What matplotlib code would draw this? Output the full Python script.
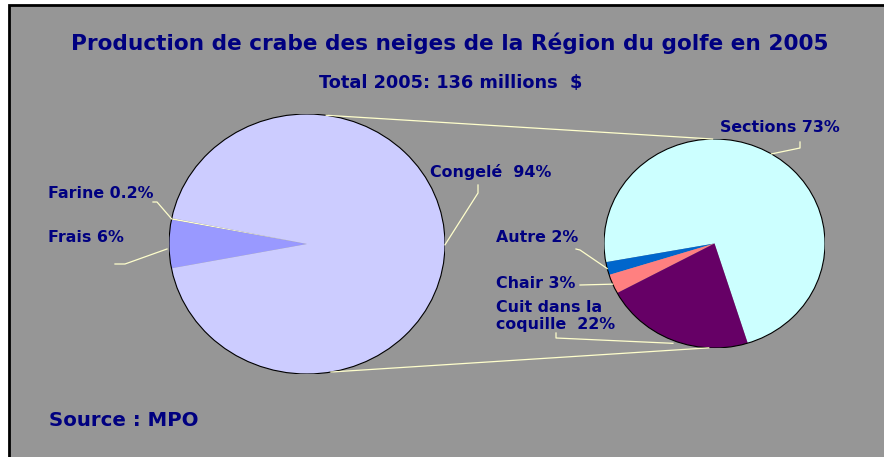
import numpy as np
import matplotlib
matplotlib.use("Agg")
import matplotlib.pyplot as plt
from matplotlib.patches import Rectangle, Ellipse

# ---- data ----
main_labels = ["Farine 0.2%", "Frais 6%", "Congelé  94%"]
main_values = [0.2, 6, 94]
main_colors = ["#FFFFCC", "#9999FF", "#CCCCFF"]

sub_labels = ["Sections 73%", "Autre 2%", "Chair 3%", "Cuit dans la\ncoquille  22%"]
sub_values = [73, 2, 3, 22]
sub_colors = ["#CCFFFF", "#0066CC", "#FF8080", "#660066"]

title = "Production de crabe des neiges de la Région du golfe en 2005"
subtitle = "Total 2005: 136 millions  $"
source = "Source : MPO"

W, H = 884, 457
NAVY = "#000080"
LEAD = "#FFFFCC"
plt.rcParams['font.family'] = ['DejaVu Sans']

fig = plt.figure(figsize=(W / 100, H / 100), dpi=100)
fig.patch.set_facecolor("white")

# gray panel with black border
fig.patches.append(Rectangle((9 / W, -0.05), 1.0, 1 - 5 / H + 0.05, transform=fig.transFigure,
                             facecolor="#969696", edgecolor="black", linewidth=2, zorder=-10))

def pie_axes(px0, py0, px1, py1):
    ax = fig.add_axes([px0 / W, 1 - py1 / H, (px1 - px0) / W, (py1 - py0) / H])
    ax.set_xlim(-1, 1)
    ax.set_ylim(-1, 1)
    return ax

axL = pie_axes(169, 114, 445, 374)
wL, _ = axL.pie(main_values, colors=main_colors, startangle=168.5, counterclock=True,
                radius=1, wedgeprops=dict(linewidth=0))
axL.set_aspect('auto'); axL.set_xlim(-1, 1); axL.set_ylim(-1, 1); axL.axis('off')
axL.add_patch(Ellipse((0, 0), 2, 2, fill=False, edgecolor="black", linewidth=0.8))

axR = pie_axes(604, 139, 825, 348)
wR, _ = axR.pie(sub_values, colors=sub_colors, startangle=-72.5, counterclock=True,
                radius=1, wedgeprops=dict(linewidth=0))
axR.set_aspect('auto'); axR.set_xlim(-1, 1); axR.set_ylim(-1, 1); axR.axis('off')
axR.add_patch(Ellipse((0, 0), 2, 2, fill=False, edgecolor="black", linewidth=0.8))

# overlay axes in pixel coordinates
ov = fig.add_axes([0, 0, 1, 1], facecolor="none")
ov.set_xlim(0, W); ov.set_ylim(H, 0); ov.axis('off')

def pt(ax, ang, r=1.0):
    a = np.deg2rad(ang)
    x, y = ax.transData.transform((r * np.cos(a), r * np.sin(a)))
    return x, H - y

def mid(w):
    return (w.theta1 + w.theta2) / 2

# connector lines between pies
for aL, aR in [(82, 91), (-80, -93)]:
    p1 = pt(axL, aL); p2 = pt(axR, aR)
    ov.plot([p1[0], p2[0]], [p1[1], p2[1]], color=LEAD, lw=0.9)

# titles
ov.text(450, 43, title, ha="center", va="center", color=NAVY, fontsize=15.6, fontweight="bold")
ov.text(451, 83, subtitle, ha="center", va="center", color=NAVY, fontsize=12.8, fontweight="bold")
ov.text(49, 420, source, ha="left", va="center", color=NAVY, fontsize=14.2, fontweight="bold")

fs = 11.4
# main pie labels
a = pt(axL, mid(wL[0]))
ov.text(48, 194, main_labels[0], ha="left", va="center", color=NAVY, fontsize=fs, fontweight="bold")
ov.plot([153, 157, a[0]], [202, 202, a[1]], color=LEAD, lw=0.9)
a = pt(axL, mid(wL[1]))
ov.text(48, 238, main_labels[1], ha="left", va="center", color=NAVY, fontsize=fs, fontweight="bold")
ov.plot([115, 125, a[0] - 2], [264, 264, a[1] + 5], color=LEAD, lw=0.9)
a = pt(axL, mid(wL[2]))
ov.text(430, 172, main_labels[2], ha="left", va="center", color=NAVY, fontsize=fs, fontweight="bold")
ov.plot([478, 478, a[0]], [185, 193, a[1]], color=LEAD, lw=0.9)

# secondary pie labels
a = pt(axR, 59)
ov.text(720, 127, sub_labels[0], ha="left", va="center", color=NAVY, fontsize=fs, fontweight="bold")
ov.plot([800, 800, a[0]], [142, 148, a[1]], color=LEAD, lw=0.9)

a = pt(axR, mid(wR[1]))
ov.text(496, 238, sub_labels[1], ha="left", va="center", color=NAVY, fontsize=fs, fontweight="bold")
ov.plot([576, 580, a[0]], [249, 250, a[1]], color=LEAD, lw=0.9)

a = pt(axR, mid(wR[2]))
ov.text(496, 284, sub_labels[2], ha="left", va="center", color=NAVY, fontsize=fs, fontweight="bold")
ov.plot([580, a[0]], [285, a[1]], color=LEAD, lw=0.9)

a = pt(axR, mid(wR[3]))
ov.text(496, 316, sub_labels[3], ha="left", va="center", color=NAVY, fontsize=fs, fontweight="bold",
        linespacing=1.2)
ov.plot([556, 556, a[0]], [333, 338, a[1] + 3], color=LEAD, lw=0.9)

fig.savefig("out.png", dpi=100)
